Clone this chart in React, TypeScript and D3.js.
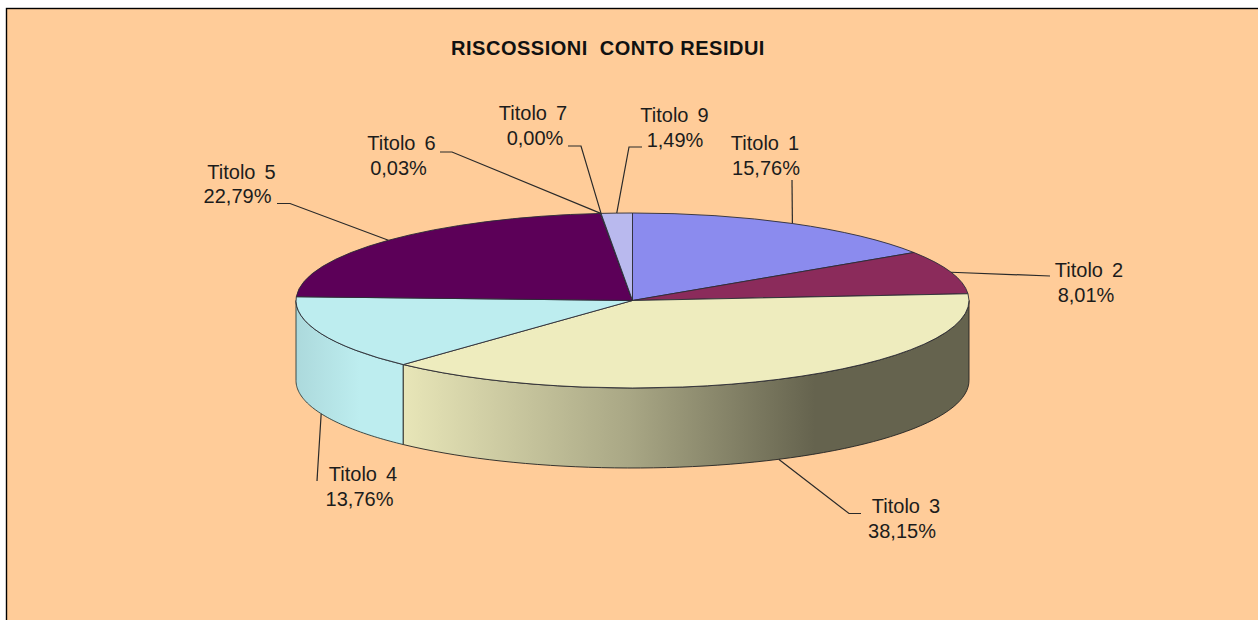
import React from "react";
import * as d3 from "d3";

const width = 1258;
const height = 620;

const chartTitle = "RISCOSSIONI  CONTO RESIDUI";
const categories = ["Titolo 1", "Titolo 2", "Titolo 3", "Titolo 4", "Titolo 5", "Titolo 6", "Titolo 7", "Titolo 9"];
const percentValues = [15.76, 8.01, 38.15, 13.76, 22.79, 0.03, 0.0, 1.49];
const percentLabels = ["15,76%", "8,01%", "38,15%", "13,76%", "22,79%", "0,03%", "0,00%", "1,49%"];
const sliceColors = ["#8B8BEE", "#8B2B5B", "#EEECBE", "#BDEDEF", "#5C0058", "#CFEFF0", "#BBEEEE", "#B9B9EE"];

// label layout, in the same order as the categories: name x, percent x, name baseline
const nameX = [765, 1089, 906, 363, 241.5, 401.5, 533, 674.5];
const percentX = [766, 1086, 902, 359.5, 237.5, 398.5, 535, 675];
const nameBaseline = [150, 277, 513, 481, 178.5, 150, 120, 122];
const lineGap = 24.5;

// leader elbows: [x, y] of the bend and of the end next to the label
const leaderElbows: [number, number][][] = [
  [[792, 180]],
  [[1050, 276]],
  [[849, 513.5], [861, 513.5]],
  [[317, 481]],
  [[290, 203.5], [277, 203.5]],
  [[452, 152], [440, 152]],
  [[581, 146], [568, 146]],
  [[629, 147], [642, 147]],
];

const cx = 632.5;
const cy = 300.5;
const rx = 336.5;
const ry = 87.5;
const depth = 80;

const pieGen = d3.pie<number>().sort(null).value((d) => d);
const arcs = pieGen(percentValues);
const arcGen = d3.arc<d3.PieArcDatum<number>>().innerRadius(0).outerRadius(rx);
const px = (a: number) => cx + rx * Math.sin(a);
const py = (a: number) => cy - ry * Math.cos(a);

const lineGen = d3.line<[number, number]>();

function wall(a0: number, a1: number) {
  const steps = d3.range(0, 61).map((i) => a0 + ((a1 - a0) * i) / 60);
  const top = steps.map((a) => [px(a), py(a)] as [number, number]);
  const bottom = steps.slice().reverse().map((a) => [px(a), py(a) + depth] as [number, number]);
  return lineGen([...top, ...bottom]) + "Z";
}

const FONT = "'Liberation Sans', Arial, sans-serif";

export default function App() {
  const a3 = arcs[2];
  const a4 = arcs[3];
  return (
    <svg
      width={width}
      height={height}
      style={{ position: "absolute", left: 0, top: 0, display: "block" }}
      fontFamily={FONT}
    >
      <defs>
        <linearGradient id="wall3" gradientUnits="userSpaceOnUse" x1={402} x2={815} y1={0} y2={0}>
          <stop offset="0" stopColor="#E8E6B8" />
          <stop offset="0.55" stopColor="#A9A785" />
          <stop offset="1" stopColor="#65634E" />
        </linearGradient>
        <linearGradient id="wall4" gradientUnits="userSpaceOnUse" x1={296} x2={360} y1={0} y2={0}>
          <stop offset="0" stopColor="#ACD9DC" />
          <stop offset="1" stopColor="#BDEDEF" />
        </linearGradient>
      </defs>
      <rect x={0} y={0} width={width} height={height} fill="#FFFFFF" />
      <rect x={6.5} y={8.5} width={width + 20} height={height + 20} fill="#FFCC99" stroke="#000000" strokeWidth={1.4} />

      <text x={608} y={55} textAnchor="middle" fontSize={20} fontWeight={700} letterSpacing={0.5} fill="#111" style={{ whiteSpace: "pre" }}>
        {chartTitle}
      </text>

      {/* side walls */}
      <path d={wall(a4.startAngle, Math.PI * 1.5)} fill="url(#wall4)" stroke="#2a3a3a" strokeWidth={0.9} />
      <path d={wall(Math.PI / 2, a3.endAngle)} fill="url(#wall3)" stroke="#222" strokeWidth={0.9} />

      {/* top slices */}
      <g transform={`translate(${cx},${cy}) scale(1,${ry / rx})`}>
        {arcs.map((a, i) => (
          <path
            key={categories[i]}
            d={arcGen(a) ?? ""}
            fill={sliceColors[i]}
            stroke="#2b2b35"
            strokeWidth={0.9}
            vectorEffect="non-scaling-stroke"
          />
        ))}
      </g>

      {/* leaders */}
      {arcs.map((a, i) => {
        const mid = (a.startAngle + a.endAngle) / 2;
        const onWall = i === 2 || i === 3;
        const start: [number, number] = [px(mid), py(mid) + (onWall ? depth : 0)];
        return (
          <path
            key={categories[i]}
            d={lineGen([start, ...leaderElbows[i]]) ?? ""}
            fill="none"
            stroke="#2a2a2a"
            strokeWidth={1.2}
          />
        );
      })}

      {/* labels */}
      {categories.map((c, i) => (
        <g key={c} fontSize={20} fill="#1c1c1c" textAnchor="middle">
          <text x={nameX[i]} y={nameBaseline[i]} wordSpacing={3.5}>{c}</text>
          <text x={percentX[i]} y={nameBaseline[i] + lineGap}>{percentLabels[i]}</text>
        </g>
      ))}
    </svg>
  );
}
